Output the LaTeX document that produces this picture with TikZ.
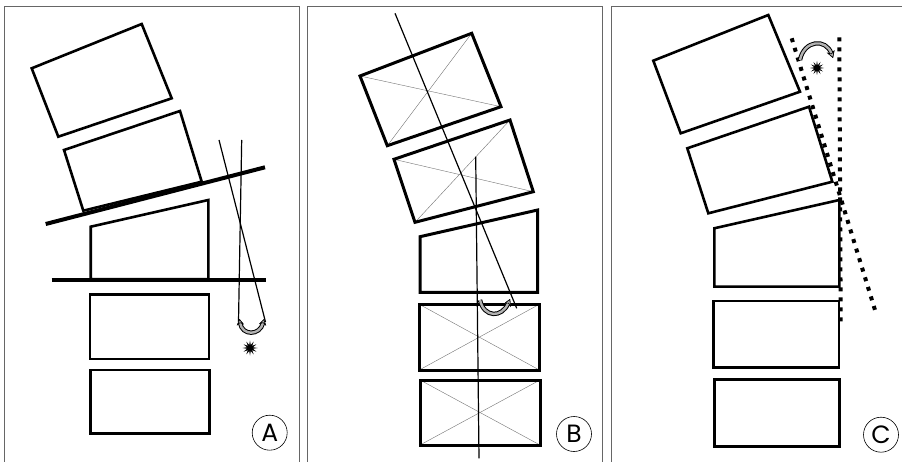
\documentclass[tikz,border=0pt]{standalone}
\usepackage{fontspec}
\setsansfont{Poppins}
\usetikzlibrary{calc,arrows.meta,shapes.geometric}

\tikzset{
  frame/.style={line width=0.7pt,black!60},
  vert/.style={line width=2.6pt,line join=miter},
  vertB/.style={line width=3pt,line join=miter},
  cross/.style={line width=0.4pt,black!55},
  endplate/.style={line width=4pt},
  axis/.style={line width=1.2pt},
  plumb/.style={line width=4pt,dash pattern=on 4pt off 6pt},
  twistout/.style={line width=4.4pt,black},
  twistin/.style={line width=2.4pt,black!30},
  tip/.style={-{Stealth[length=7pt,width=8pt,line width=0.6pt,color=black,fill=black!30]}},
  tips/.style={{Stealth[length=6pt,width=7pt,line width=0.6pt,color=black,fill=black!30]}-{Stealth[length=6pt,width=7pt,line width=0.6pt,color=black,fill=black!30]}},
  burst/.style={star,star points=12,star point ratio=2.4,fill=black,minimum size=15pt,inner sep=0pt},
  tag/.style={circle,draw,line width=0.6pt,minimum size=35pt,inner sep=0pt,font=\fontsize{25}{25}\sffamily}
}

\begin{document}
\begin{tikzpicture}[x=1pt,y=-1pt]
  \useasboundingbox (0,0) rectangle (902,462);
  % panel frames
  \draw[frame] (4,462) -- (4,6) -- (299,6) -- (299,462);
  \draw[frame] (307,462) -- (307,6) -- (602,6) -- (602,462);
  \draw[frame] (611,462) -- (611,6) -- (902,6);

  % --- A ---
  \draw[vert] (31.7,68.3) -- (141.7,24) -- (171.7,98.3) -- (58.3,136.7) -- cycle;
  \draw[vert] (64,150) -- (180,111) -- (201.7,181.7) -- (83.3,210.7) -- cycle;
  \draw[vert] (90.7,226.7) -- (208.3,200) -- (208.3,279.3) -- (90.7,279.3) -- cycle;
  \draw[vert] (90,294.3) rectangle (209,359);
  \draw[vert] (90.7,370) rectangle (209.3,433.3);
  \coordinate (PA1) at (45.7,224);
  \coordinate (PA2) at (265,167.3);
  \coordinate (PA3) at (51.7,280);
  \coordinate (PA4) at (265.7,280);
  \draw[endplate] (PA1) -- (PA2);
  \draw[endplate] (PA3) -- (PA4);
  \coordinate (NA1) at (219,140);
  \coordinate (NA2) at (265.5,322);
  \coordinate (NB1) at (241.7,140);
  \coordinate (NB2) at (238.5,322);
  \draw[axis] (NA1) -- (NA2);
  \draw[axis] (NB1) -- (NB2);
  \draw[twistout,tips] (239.5,319) .. controls (242,336) and (260,336) .. (264,319);
  \draw[twistin,tips] (239.5,319) .. controls (242,336) and (260,336) .. (264,319);
  \node[burst] (starA) at (250,348) {};
  \node[tag] (labA) at (269.7,432.7) {A};

  % --- B ---
  \coordinate (B1a) at (360,76);    \coordinate (B1b) at (471.7,33.3);
  \coordinate (B1c) at (501,106.7); \coordinate (B1d) at (387.3,145.7);
  \coordinate (B2a) at (394,159.3); \coordinate (B2b) at (510,120);
  \coordinate (B2c) at (533.3,191.7); \coordinate (B2d) at (415,222.3);
  \coordinate (B4a) at (419.3,304.3); \coordinate (B4b) at (539.3,304.3);
  \coordinate (B4c) at (539.3,370); \coordinate (B4d) at (419.3,370);
  \coordinate (B5a) at (420,380);   \coordinate (B5b) at (540,380);
  \coordinate (B5c) at (540,445);   \coordinate (B5d) at (420,445);
  \foreach \v in {B1,B2,B4,B5}{
    \draw[cross] (\v a) -- (\v c);
    \draw[cross] (\v b) -- (\v d);
    \draw[vertB] (\v a) -- (\v b) -- (\v c) -- (\v d) -- cycle;
  }
  \draw[vertB] (420,236.7) -- (537.7,210) -- (537.7,292.3) -- (420,292.3) -- cycle;
  \coordinate (LB1) at (395,13.3);
  \coordinate (LB2) at (516.7,308.3);
  \coordinate (VB1) at (475.7,156.7);
  \coordinate (VB2) at (479,458.3);
  \draw[axis] (LB1) -- (LB2);
  \draw[axis] (VB1) -- (VB2);
  \draw[twistout,tip] (480,300) .. controls (484,318) and (502,318) .. (510,299);
  \draw[twistin,tip] (480,300) .. controls (484,318) and (502,318) .. (510,299);
  \node[tag] (labB) at (574,434) {B};

  % --- C ---
  \draw[vert] (653.3,60.7) -- (768.3,15) -- (800,91.7) -- (680.7,133.3) -- cycle;
  \draw[vert] (687.3,148.3) -- (809,106.7) -- (832.3,181.7) -- (708.3,213.3) -- cycle;
  \draw[vert] (714.3,228.3) -- (839.3,200) -- (839.3,286.7) -- (714.3,286.7) -- cycle;
  \draw[vert] (713.3,301) rectangle (839,367.7);
  \draw[vert] (714.3,379.3) rectangle (839.3,446.7);
  \coordinate (DC1) at (791.7,38.3);
  \coordinate (DC2) at (876,313.3);
  \coordinate (DV1) at (839.3,37.3);
  \coordinate (DV2) at (840.7,321.7);
  \draw[plumb] (DC1) -- (DC2);
  \draw[plumb] (DV1) -- (DV2);
  \draw[twistout,tip] (800,60) .. controls (804,40) and (826,38) .. (833,58);
  \draw[twistin,tip] (800,60) .. controls (804,40) and (826,38) .. (833,58);
  \node[burst,minimum size=14pt] (starC) at (817,68) {};
  \node[tag] (labC) at (881,434.7) {C};
\end{tikzpicture}
\end{document}
